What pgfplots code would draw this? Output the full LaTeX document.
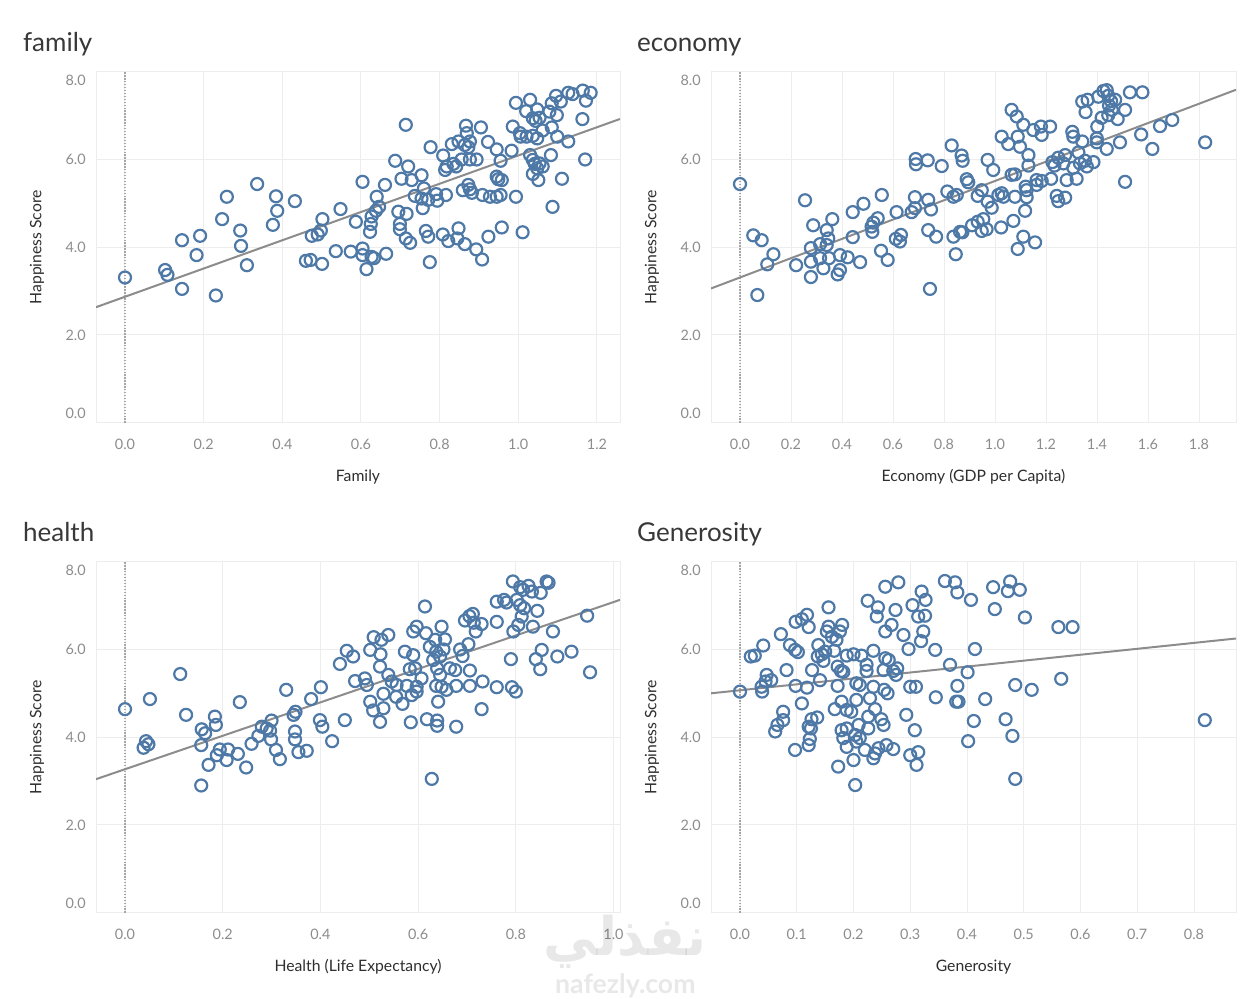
\documentclass[border=0pt]{standalone}
\usepackage{fontspec}
\setmainfont{Lato}
\newfontfamily\arabicfont[Script=Arabic]{DejaVu Sans}
\TeXXeTstate=1
\usepackage{pgfplots}
\usepackage{pgfplotstable}
\pgfplotsset{compat=1.18}
\definecolor{tblue}{HTML}{4E79A7}
\definecolor{tgrid}{HTML}{EDEDED}

\pgfplotstableread{
x y
0.000 3.31
0.102 3.48
0.108 3.37
0.145 4.16
0.145 3.05
0.191 4.26
0.182 3.82
0.231 2.90
0.247 4.64
0.259 5.15
0.293 4.38
0.295 4.03
0.310 3.59
0.336 5.44
0.384 5.16
0.387 4.83
0.376 4.51
0.432 5.05
0.460 3.69
0.472 3.71
0.501 3.62
0.475 4.26
0.490 4.29
0.498 4.38
0.502 4.64
0.536 3.91
0.548 4.87
0.574 3.90
0.587 4.58
0.604 5.49
1.127 7.52
1.138 7.49
1.164 7.57
1.184 7.52
1.172 7.34
1.108 7.32
1.096 7.45
1.085 7.28
1.079 7.09
1.098 7.01
1.030 7.36
0.994 7.29
1.020 7.10
1.048 7.14
1.037 6.94
1.054 6.95
1.044 6.88
1.163 6.92
1.085 6.73
1.062 6.66
0.986 6.75
1.004 6.60
1.006 6.52
1.021 6.52
1.037 6.54
1.048 6.48
1.099 6.52
1.127 6.41
1.170 6.00
1.083 6.10
1.030 6.10
1.037 5.99
1.042 5.90
1.054 5.91
1.062 5.84
1.048 5.80
1.037 5.67
1.051 5.53
1.111 5.56
1.087 4.92
1.011 4.34
0.983 6.20
0.955 5.97
0.945 6.23
0.923 6.40
0.905 6.73
0.867 6.77
0.869 6.60
0.714 6.79
0.777 6.28
0.831 6.35
0.848 6.41
0.877 6.41
0.873 6.28
0.864 6.33
0.809 6.09
0.856 6.00
0.877 6.00
0.894 6.00
0.835 5.90
0.818 5.84
0.814 5.76
0.842 5.84
0.687 5.97
0.720 5.84
0.754 5.64
0.703 5.56
0.729 5.53
0.661 5.42
0.640 5.15
0.646 4.92
0.638 4.83
0.627 4.70
0.625 4.53
0.623 4.35
0.604 3.97
0.604 3.82
0.627 3.78
0.633 3.75
0.614 3.50
0.664 3.85
0.737 5.17
0.754 5.11
0.760 5.34
0.757 4.89
0.771 5.08
0.791 5.21
0.794 5.06
0.816 5.19
0.695 4.81
0.716 4.76
0.699 4.53
0.699 4.41
0.714 4.20
0.725 4.10
0.765 4.37
0.771 4.24
0.775 3.66
0.808 4.29
0.822 4.14
0.848 4.43
0.845 4.20
0.864 4.07
0.893 3.95
0.908 3.72
0.924 4.24
0.958 4.45
0.859 5.30
0.873 5.42
0.877 5.32
0.882 5.24
0.909 5.19
0.928 5.15
0.945 5.15
0.955 5.19
0.994 5.15
0.945 5.61
0.958 5.53
0.949 5.55
}\datafamily

\pgfplotstableread{
x y
0.000 5.44
0.052 4.27
0.085 4.16
0.131 3.84
0.107 3.61
0.068 2.91
0.255 5.07
0.220 3.59
0.278 3.98
0.287 4.50
0.278 3.67
0.278 3.32
0.314 4.07
0.314 3.75
0.327 3.52
0.340 4.39
0.346 4.20
0.340 4.05
0.349 3.75
0.362 4.64
0.383 3.38
0.392 3.48
0.392 3.82
0.422 3.77
0.442 4.80
0.442 4.23
0.471 3.66
0.484 4.99
0.516 4.47
0.523 4.56
0.540 4.66
0.519 4.35
0.556 5.19
0.553 3.92
0.579 3.71
0.614 4.80
0.611 4.19
0.631 4.28
0.627 4.13
0.673 4.80
0.686 4.89
0.686 5.14
0.689 6.01
0.690 5.89
0.736 5.98
0.738 5.08
0.749 4.86
0.738 4.39
0.769 4.24
0.745 3.05
0.791 5.85
0.830 6.32
0.869 6.09
0.873 5.97
0.813 5.27
0.837 5.15
0.850 5.19
0.837 4.24
0.863 4.35
0.872 4.34
0.846 3.84
0.889 5.55
0.895 5.48
0.910 4.50
0.932 5.17
0.948 5.30
0.971 5.04
0.987 4.90
0.971 5.99
0.993 5.76
0.932 4.58
0.954 4.64
0.948 4.37
0.967 4.41
1.024 4.45
1.072 4.60
1.013 5.19
1.026 5.23
1.033 5.15
1.078 5.15
1.124 5.30
1.124 5.14
1.118 4.83
1.111 4.24
1.157 4.11
1.089 3.96
1.065 5.65
1.078 5.66
1.131 5.86
1.131 6.10
1.098 6.29
1.052 6.35
1.026 6.52
1.089 6.52
1.065 7.13
1.085 6.98
1.111 6.79
1.150 6.67
1.180 6.75
1.183 6.56
1.216 6.75
1.163 5.53
1.183 5.51
1.163 5.42
1.220 5.56
1.225 5.94
1.233 5.86
1.248 6.04
1.242 5.17
1.248 5.05
1.275 5.13
1.275 6.10
1.268 5.91
1.307 5.81
1.281 5.53
1.320 5.56
1.303 6.63
1.307 6.52
1.342 6.41
1.327 6.16
1.333 5.91
1.353 5.97
1.360 5.84
1.386 5.94
1.342 7.32
1.363 7.36
1.355 7.08
1.405 7.43
1.425 7.56
1.438 7.58
1.444 7.45
1.455 7.33
1.471 7.36
1.447 7.23
1.458 7.13
1.510 7.13
1.529 7.53
1.578 7.53
1.418 6.95
1.444 7.01
1.481 6.92
1.401 6.75
1.399 6.48
1.399 6.39
1.438 6.24
1.490 6.39
1.510 5.49
1.573 6.57
1.617 6.24
1.647 6.76
1.695 6.90
1.824 6.39
1.120 5.38
}\dataeconomy

\pgfplotstableread{
x y
0.000 4.64
0.051 4.87
0.113 5.44
0.125 4.51
0.043 3.91
0.048 3.84
0.038 3.76
0.157 4.18
0.164 4.09
0.156 3.82
0.184 4.47
0.186 4.28
0.171 3.37
0.156 2.90
0.194 3.72
0.188 3.59
0.211 3.72
0.208 3.48
0.231 3.62
0.235 4.80
0.248 3.31
0.259 3.85
0.273 4.03
0.280 4.24
0.290 4.20
0.297 4.15
0.300 4.38
0.299 3.95
0.309 3.71
0.317 3.50
0.330 5.08
0.348 4.13
0.348 3.95
0.345 4.51
0.349 4.58
0.355 3.66
0.372 3.69
0.381 4.87
0.401 5.14
0.399 4.39
0.404 4.24
0.424 3.91
0.450 4.39
0.440 5.67
0.454 5.97
0.467 5.84
0.471 5.28
0.491 5.34
0.495 5.19
0.502 4.81
0.508 4.61
0.529 4.66
0.522 4.35
0.529 4.99
0.502 5.99
0.509 6.28
0.525 6.22
0.539 6.33
0.523 5.89
0.522 5.61
0.539 5.42
0.546 5.27
0.556 5.19
0.555 4.92
0.568 4.76
0.573 5.95
0.583 5.55
0.577 5.17
0.587 4.96
0.585 4.34
0.590 5.87
0.594 5.57
0.597 5.15
0.597 5.04
0.590 6.41
0.597 6.52
0.607 5.34
0.614 6.98
0.616 6.37
0.624 6.06
0.631 5.76
0.635 6.22
0.637 5.95
0.648 6.52
0.655 6.23
0.652 6.00
0.645 5.84
0.639 5.57
0.637 5.17
0.645 5.42
0.648 5.15
0.658 5.08
0.641 4.81
0.618 4.41
0.639 4.38
0.639 4.26
0.628 3.05
0.665 5.57
0.676 5.53
0.678 5.17
0.678 4.24
0.686 6.00
0.691 5.85
0.703 6.12
0.706 5.52
0.706 5.17
0.696 6.66
0.705 6.76
0.712 6.81
0.714 6.61
0.718 6.41
0.730 6.58
0.732 5.27
0.730 4.64
0.761 6.63
0.761 5.14
0.761 7.09
0.776 7.13
0.781 7.07
0.794 7.55
0.809 7.42
0.815 7.36
0.826 7.45
0.833 7.32
0.851 7.29
0.863 7.55
0.867 7.52
0.802 7.13
0.809 7.01
0.817 6.94
0.812 6.75
0.805 6.56
0.795 6.41
0.844 6.88
0.835 6.52
0.876 6.41
0.946 6.77
0.790 5.78
0.853 5.99
0.841 5.78
0.885 5.84
0.914 5.95
0.850 5.55
0.952 5.48
0.792 5.14
0.800 5.04
}\datahealth

\pgfplotstableread{
x y
0.000 5.04
0.019 5.84
0.026 5.86
0.041 6.09
0.039 5.04
0.038 5.15
0.047 5.42
0.055 5.30
0.045 5.27
0.072 6.35
0.082 5.53
0.076 4.58
0.076 4.39
0.066 4.28
0.062 4.13
0.088 6.10
0.097 5.99
0.102 5.94
0.098 6.63
0.109 6.69
0.118 6.79
0.121 6.51
0.098 5.17
0.118 5.13
0.109 4.77
0.097 3.71
0.127 5.53
0.141 5.30
0.138 6.10
0.137 5.84
0.144 5.89
0.147 5.74
0.150 5.95
0.136 4.45
0.126 4.41
0.121 4.24
0.125 4.20
0.123 3.96
0.121 3.82
0.156 6.96
0.156 6.52
0.153 6.41
0.162 6.29
0.170 6.22
0.176 6.41
0.180 6.56
0.166 5.97
0.172 5.61
0.178 5.51
0.182 5.49
0.172 5.17
0.167 4.64
0.179 4.81
0.188 4.62
0.196 4.58
0.179 4.16
0.188 4.20
0.182 3.98
0.188 3.78
0.173 3.33
0.200 3.48
0.203 2.91
0.188 5.86
0.200 5.89
0.214 5.86
0.205 5.23
0.211 5.19
0.205 4.85
0.209 4.28
0.203 4.05
0.205 3.90
0.211 3.98
0.223 5.65
0.223 5.51
0.225 7.11
0.243 6.96
0.241 6.75
0.235 5.97
0.226 4.47
0.226 4.20
0.229 4.89
0.235 5.15
0.238 4.64
0.220 3.71
0.235 3.52
0.238 3.63
0.244 3.75
0.249 4.41
0.253 4.28
0.256 6.41
0.267 6.56
0.256 5.80
0.262 5.76
0.253 5.53
0.254 5.08
0.260 5.00
0.258 3.82
0.270 3.73
0.274 6.90
0.256 7.43
0.279 7.53
0.270 5.51
0.277 5.57
0.275 5.42
0.288 6.33
0.297 6.01
0.300 5.15
0.310 5.15
0.293 4.51
0.308 4.16
0.300 3.59
0.314 3.66
0.311 3.37
0.304 7.01
0.314 6.75
0.326 6.77
0.320 7.32
0.327 7.13
0.323 6.41
0.319 6.19
0.344 5.99
0.345 4.91
0.361 7.56
0.379 7.53
0.383 7.30
0.407 7.13
0.370 5.65
0.401 5.48
0.383 5.17
0.381 4.81
0.385 4.81
0.412 4.37
0.402 3.91
0.446 7.42
0.476 7.55
0.472 7.33
0.493 7.36
0.449 6.92
0.502 6.73
0.561 6.51
0.586 6.51
0.414 6.01
0.485 5.19
0.514 5.08
0.566 5.33
0.432 4.87
0.468 4.41
0.480 4.03
0.485 3.05
0.819 4.39
}\datagenerosity

\pgfplotsset{
  panel/.style={
    scale only axis, height=263.25pt,
    anchor=south west,
    ymin=0, ymax=8,
    ytick={0,2,4,6,8}, yticklabels={},
    extra y ticks={0.22,2,4,6,7.81},
    extra y tick labels={0.0,2.0,4.0,6.0,8.0},
    extra y tick style={grid=none},
    grid=major,
    grid style={tgrid, line width=0.75pt},
    major tick length=0pt,
    axis line style={tgrid, line width=0.75pt},
    tick label style={font=\fontsize{10.8}{12}\selectfont, text=black!45},
    xticklabel style={anchor=center, yshift=-16pt},
    yticklabel style={anchor=east, inner sep=0pt, xshift=-7.5pt},
    label style={font=\fontsize{11.8}{14}\selectfont, text=black!82},
    ylabel={Happiness Score},
    xlabel style={at={(axis description cs:0.5,-0.155)}, anchor=center},
    title style={anchor=base west, inner sep=0pt, font=\fontsize{19.5}{22}\selectfont, text=black!78},
  },
  dots/.style={only marks, mark=o, mark size=4.5pt,
    mark options={draw=tblue, line width=1.65pt}},
  trend/.style={no marks, draw=black!45, line width=1.5pt},
  zeroline/.style={no marks, draw=black!35, dash pattern=on 1pt off 1.2pt, line width=0.8pt},
}

\begin{document}
\begin{tikzpicture}
\path[use as bounding box] (0,0) rectangle (936.75pt,-749.25pt);

% family
\begin{axis}[panel, at={(72pt,-317.03pt)}, width=393pt,
  xmin=-0.0737, xmax=1.2586,
  xtick={0,0.2,0.4,0.6,0.8,1.0,1.2},
  xticklabels={0.0,0.2,0.4,0.6,0.8,1.0,1.2},
  xlabel={Family},
  ylabel style={at={(axis description cs:-0.1126,0.5)}, anchor=center},
  title={family},
  title style={at={(axis description cs:-0.1395,1.0362)}}]
\addplot[zeroline] coordinates {(0,0) (0,8)};
\addplot[dots] table[x=x,y=y] {\datafamily};
\addplot[trend] coordinates {(-0.0737,2.633) (1.2586,6.923)};
\end{axis}

% economy
\begin{axis}[panel, at={(533.25pt,-317.03pt)}, width=393.75pt,
  xmin=-0.1137, xmax=1.945,
  xtick={0,0.2,0.4,0.6,0.8,1.0,1.2,1.4,1.6,1.8},
  xticklabels={0.0,0.2,0.4,0.6,0.8,1.0,1.2,1.4,1.6,1.8},
  xlabel={Economy (GDP per Capita)},
  ylabel style={at={(axis description cs:-0.1124,0.5)}, anchor=center},
  title={economy},
  title style={at={(axis description cs:-0.1410,1.0362)}}]
\addplot[zeroline] coordinates {(0,0) (0,8)};
\addplot[dots] table[x=x,y=y] {\dataeconomy};
\addplot[trend] coordinates {(-0.1137,3.060) (1.945,7.589)};
\end{axis}

% health
\begin{axis}[panel, at={(72pt,-684.53pt)}, width=393pt,
  xmin=-0.0594, xmax=1.0133,
  xtick={0,0.2,0.4,0.6,0.8,1.0},
  xticklabels={0.0,0.2,0.4,0.6,0.8,1.0},
  xlabel={Health (Life Expectancy)},
  ylabel style={at={(axis description cs:-0.1126,0.5)}, anchor=center},
  title={health},
  title style={at={(axis description cs:-0.1395,1.0362)}}]
\addplot[zeroline] coordinates {(0,0) (0,8)};
\addplot[dots] table[x=x,y=y] {\datahealth};
\addplot[trend] coordinates {(-0.0594,3.044) (1.0133,7.131)};
\end{axis}

% generosity
\begin{axis}[panel, at={(533.25pt,-684.53pt)}, width=393.75pt,
  xmin=-0.0511, xmax=0.874,
  xtick={0,0.1,0.2,0.3,0.4,0.5,0.6,0.7,0.8},
  xticklabels={0.0,0.1,0.2,0.3,0.4,0.5,0.6,0.7,0.8},
  xlabel={Generosity},
  ylabel style={at={(axis description cs:-0.1124,0.5)}, anchor=center},
  title={Generosity},
  title style={at={(axis description cs:-0.1410,1.0362)}}]
\addplot[zeroline] coordinates {(0,0) (0,8)};
\addplot[dots] table[x=x,y=y] {\datagenerosity};
\addplot[trend] coordinates {(-0.0511,5.001) (0.874,6.250)};
\end{axis}

% watermark
\node[text=black, opacity=0.09, font=\arabicfont\bfseries\fontsize{40}{40}\selectfont]
  at (469pt,-706pt) {\beginR نفذلي\endR};
\node[text=black, opacity=0.09, font=\bfseries\fontsize{20}{20}\selectfont]
  at (469pt,-739pt) {nafezly.com};
\end{tikzpicture}
\end{document}
